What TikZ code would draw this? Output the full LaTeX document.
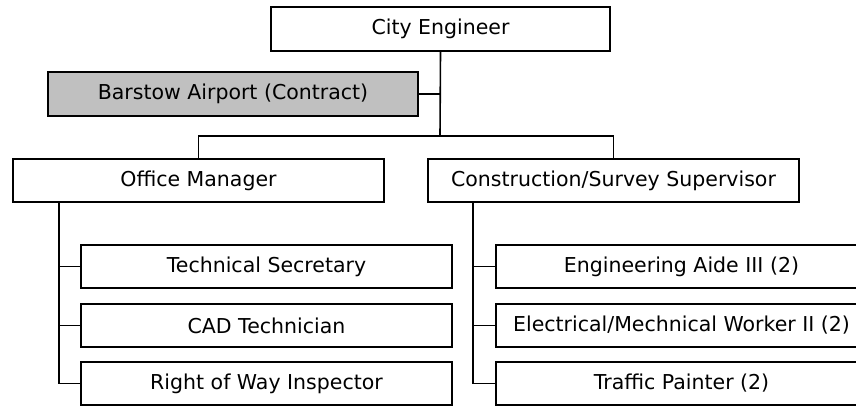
\documentclass[tikz,border=0pt]{standalone}
\usepackage{fontspec}
\setmainfont{DejaVu Sans}
\definecolor{boxgray}{HTML}{C0C0C0}
\begin{document}
\begin{tikzpicture}[x=1pt,y=-1pt,
  box/.style={draw=black,line width=1.6pt,fill=white,minimum width=371pt,minimum height=43pt,inner sep=0pt,font=\fontsize{20.5}{23}\selectfont},
  conn/.style={draw=black,line width=1.6pt}]
\useasboundingbox (0,0) rectangle (856,405);
\clip (0,0) rectangle (856,405);
\node[box,minimum width=339pt,minimum height=44pt] (ce) at (440.5,29) {City Engineer};
\node[box,fill=boxgray,minimum width=370pt,minimum height=44pt] (ba) at (233,94) {Barstow Airport (Contract)};
\node[box] (om) at (198.5,180.5) {Office Manager};
\node[box] (cs) at (613.5,180.5) {Construction/Survey Supervisor};
\node[box] (l1) at (266.5,266.5) {Technical Secretary};
\node[box] (l2) at (266.5,325.5) {CAD Technician};
\node[box] (l3) at (266.5,383.5) {Right of Way Inspector};
\node[box] (r1) at (681.5,266.5) {Engineering Aide III (2)};
\node[box] (r2) at (681.5,325.5) {Electrical/Mechnical Worker II (2)};
\node[box] (r3) at (681.5,383.5) {Traffic Painter (2)};
\coordinate (j) at (440,136);
\coordinate (omt) at (59,202);
\coordinate (cst) at (473,202);
\draw[conn] (ce.south) -- (j);
\draw[conn] (ba.east) -- (ba.east -| j);
\draw[conn] (om.north) |- (j) -| (cs.north);
\draw[conn] (omt) |- (l3.west);
\draw[conn] (l1.west) -- (l1.west -| omt);
\draw[conn] (l2.west) -- (l2.west -| omt);
\draw[conn] (cst) |- (r3.west);
\draw[conn] (r1.west) -- (r1.west -| cst);
\draw[conn] (r2.west) -- (r2.west -| cst);
\end{tikzpicture}
\end{document}
